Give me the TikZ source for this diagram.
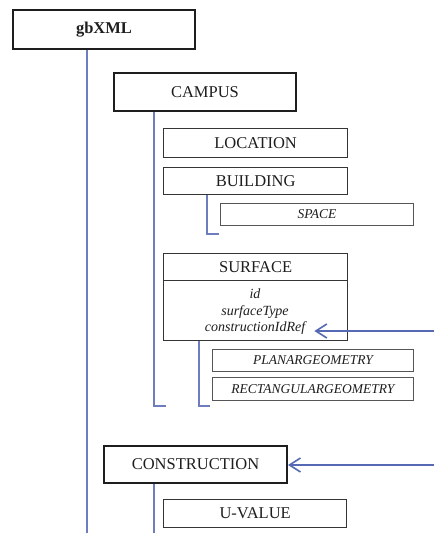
\documentclass[tikz,border=0pt]{standalone}
\usepackage{fontspec}
\setmainfont{Liberation Serif}
\usetikzlibrary{arrows.meta}
\definecolor{conn}{RGB}{110,125,190}
\definecolor{arrc}{RGB}{85,105,180}
\definecolor{ink}{RGB}{30,30,30}
\begin{document}
\begin{tikzpicture}[x=1pt,y=-1pt,
 thickbox/.style={draw=ink, line width=2pt, anchor=north west, inner sep=0pt, font=\fontsize{16.5}{19}\selectfont, text=ink},
 midbox/.style={draw=ink!90, line width=1.3pt, anchor=north west, inner sep=0pt, font=\fontsize{16.5}{19}\selectfont, text=ink},
 thinbox/.style={draw=ink!75, line width=0.9pt, anchor=north west, inner sep=0pt, font=\itshape\fontsize{13.5}{16}\selectfont, text=ink},
 attr/.style={anchor=base, inner sep=0pt, font=\itshape\fontsize{14}{17}\selectfont, text=ink},
 link/.style={draw=conn, line width=1.1pt},
 ref/.style={draw=arrc, line width=1.4pt, -{Straight Barb[length=11pt,width=14pt,line width=1.6pt]}},
]
\fill[white] (0,0) rectangle (434,533);
\useasboundingbox (0,0) rectangle (434,533);

\node[thickbox, minimum width=182pt, minimum height=39pt] (gb) at (12,9) {\textbf{gbXML}};
\node[thickbox, minimum width=182pt, minimum height=38pt] (campus) at (113,72) {CAMPUS};
\node[midbox, minimum width=184pt, minimum height=29pt] (loc) at (163,128) {LOCATION};
\node[midbox, minimum width=184pt, minimum height=27pt] (bld) at (163,167) {BUILDING};
\node[thinbox, minimum width=193pt, minimum height=22pt] (space) at (220,203) {SPACE};
\node[midbox, minimum width=184pt, minimum height=27pt] (surf) at (163,253) {SURFACE};
\node[midbox, minimum width=184pt, minimum height=60pt] (surfattr) at (163,280) {};
\node[attr] (cid) at (255,298) {id};
\node[attr] (ctype) at (255,315) {surfaceType};
\node[attr] (cref) at (255,331) {constructionIdRef};
\node[thinbox, minimum width=201pt, minimum height=22pt] (planar) at (212,349) {PLANARGEOMETRY};
\node[thinbox, minimum width=201pt, minimum height=23pt] (rectg) at (212,377) {RECTANGULARGEOMETRY};
\node[thickbox, minimum width=183pt, minimum height=37pt] (con) at (103,445) {CONSTRUCTION};
\node[midbox, minimum width=183pt, minimum height=28pt] (uval) at (163,499) {U-VALUE};

\coordinate (gbend) at (87,533);
\draw[link] (gb.south -| gbend) -- (gbend);
\coordinate (campbot) at (154,406);
\coordinate (camptick) at (166,406);
\draw[link] (campus.south -| campbot) -- (campbot) -- (camptick);
\coordinate (bldbot) at (207,234);
\coordinate (bldtick) at (219,234);
\draw[link] (bld.south -| bldbot) -- (bldbot) -- (bldtick);
\coordinate (surfbot) at (199,406);
\coordinate (surftick) at (210,406);
\draw[link] (surfattr.south -| surfbot) -- (surfbot) -- (surftick);
\coordinate (conend) at (154,533);
\draw[link] (con.south -| conend) -- (conend);

\coordinate (r1) at (434,331);
\draw[ref] (r1) -- ([xshift=9pt]r1 -| cref.east);
\coordinate (r2) at (434,465);
\draw[ref] (r2) -- (r2 -| con.east);
\end{tikzpicture}
\end{document}
